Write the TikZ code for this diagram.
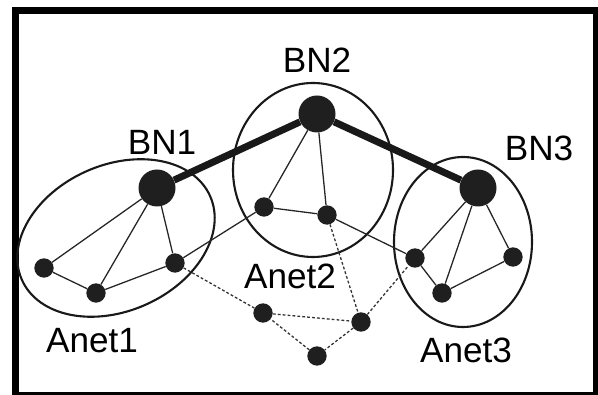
\documentclass[tikz,border=0pt]{standalone}
\usepackage{fontspec}
\setmainfont{Liberation Sans}

\begin{document}
\begin{tikzpicture}[
  x=0.3mm, y=0.3mm,
  font=\fontsize{30}{34}\selectfont,
  frame/.style={draw=black, line width=6.8pt},
  ring/.style={draw=black!90, line width=1.8pt},
  backbone/.style={draw=black!90, line width=6pt},
  link/.style={draw=black!85, line width=1.1pt},
  adhoc/.style={draw=black!80, line width=1.1pt, dash pattern=on 2.4pt off 1.8pt},
  bigdot/.style={circle, fill=black!88, minimum size=1.11cm, inner sep=0pt},
  dot/.style={circle, fill=black!88, minimum size=0.58cm, inner sep=0pt},
  tag/.style={inner sep=0pt}
]
\useasboundingbox (0,0) rectangle (598,395);

% Outer frame.
\draw[frame] (15.5,-1) rectangle (597,384.5);

% Cluster outlines.
\draw[ring, rotate around={24:(116,157)}] (116,157) ellipse [x radius=3.09cm, y radius=2.19cm];
\draw[ring] (313,225) ellipse [x radius=2.40cm, y radius=2.61cm];
\draw[ring] (463,153) ellipse [x radius=2.07cm, y radius=2.55cm];

% Backbone nodes.
\node[bigdot] (bn1) at (157,207) {};
\node[bigdot] (bn2) at (317,281) {};
\node[bigdot] (bn3) at (478,207) {};

% Member nodes of each cluster.
\node[dot] (a1) at (44,127) {};
\node[dot] (a2) at (96,102) {};
\node[dot] (a3) at (175,132) {};
\node[dot] (b1) at (264,188) {};
\node[dot] (b2) at (327,180) {};
\node[dot] (c1) at (415,137) {};
\node[dot] (c2) at (442,102) {};
\node[dot] (c3) at (513,138) {};

% Free nodes in between.
\node[dot] (f1) at (263,82) {};
\node[dot] (f2) at (361,73) {};
\node[dot] (f3) at (317,39) {};

% Links.
\draw[backbone] (bn1) -- (bn2) -- (bn3);
\draw[link] (bn1) -- (a1);
\draw[link] (bn1) -- (a2);
\draw[link] (bn1) -- (a3);
\draw[link] (a1) -- (a2) -- (a3) -- (b1);
\draw[link] (bn2) -- (b1) -- (b2);
\draw[link] (bn2) -- (b2) -- (c1);
\draw[link] (bn3) -- (c1) -- (c2) -- (c3) -- (bn3);
\draw[link] (bn3) -- (c2);
\draw[adhoc] (a3) -- (f1) -- (f2) -- (f3) -- (f1);
\draw[adhoc] (b2) -- (f2) -- (c1);

% Labels.
\node[tag] (lbn1) at (162,253) {BN1};
\node[tag] (lbn2) at (317,335) {BN2};
\node[tag] (lbn3) at (539,247) {BN3};
\node[tag] (lnet1) at (92,54) {Anet1};
\node[tag] (lnet2) at (290,119) {Anet2};
\node[tag] (lnet3) at (466,45) {Anet3};

\end{tikzpicture}
\end{document}
